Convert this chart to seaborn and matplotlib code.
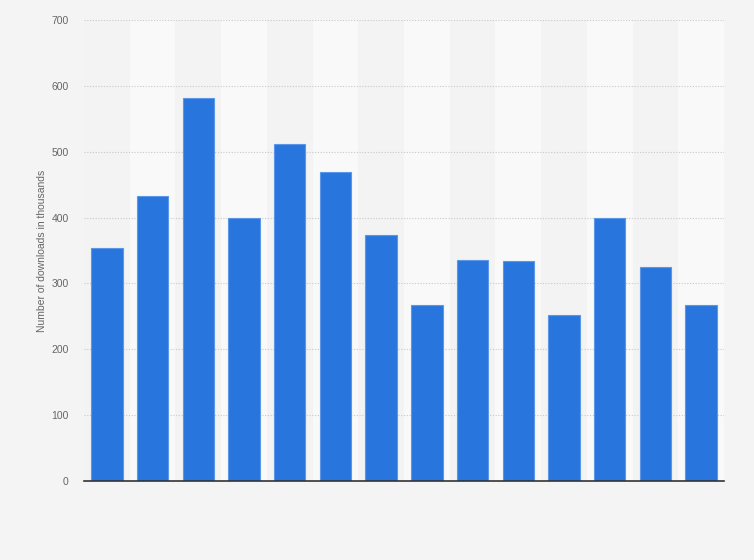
import matplotlib
matplotlib.use("Agg")
import matplotlib.pyplot as plt
import seaborn as sns
import pandas as pd

categories = [str(i) for i in range(1, 15)]
downloads = [354, 433, 582, 400, 512, 469, 374, 267, 336, 334, 252, 400, 325, 267]
y_ticks = [0, 100, 200, 300, 400, 500, 600, 700]

df = pd.DataFrame({"cat": categories, "val": downloads})

sns.set_style("white")
plt.rcParams['font.family'] = ['Liberation Sans', 'DejaVu Sans']

fig = plt.figure(figsize=(7.54, 5.6), dpi=100, facecolor="#f4f4f4")
ax = fig.add_axes([0.1114, 0.1411, 0.8488, 0.8232])
ax.set_facecolor("#f4f4f4")

for i in range(len(categories)):
    if i % 2 == 1:
        ax.axvspan(i - 0.5, i + 0.5, color="#f9f9f9", zorder=0, lw=0)
    else:
        ax.axvspan(i - 0.5, i + 0.5, color="#f3f3f3", zorder=0, lw=0)

sns.barplot(data=df, x="cat", y="val", ax=ax, color="#2876dd", saturation=1,
            width=0.69, edgecolor="#5b97e6", linewidth=0.8, zorder=3)

ax.set_xlim(-0.5, len(categories) - 0.5)
ax.set_ylim(0, 700)
ax.set_yticks(y_ticks)
ax.set_yticklabels([str(v) for v in y_ticks], color="#666666", fontsize=7.5)
ax.set_xticks([])
ax.set_xlabel("")
ax.set_ylabel("Number of downloads in thousands", color="#666666", fontsize=7.5, labelpad=3)
ax.yaxis.grid(True, linestyle=(0, (1, 1.5)), color="#c8c8c8", linewidth=0.8, zorder=1)
ax.set_axisbelow(True)
ax.tick_params(axis="y", length=0, pad=11)
for s in ["top", "right", "left"]:
    ax.spines[s].set_visible(False)
ax.spines["bottom"].set_color("#333333")
ax.spines["bottom"].set_linewidth(1.2)
ax.spines["bottom"].set_zorder(5)

fig.savefig("out.png", dpi=100, facecolor=fig.get_facecolor())
